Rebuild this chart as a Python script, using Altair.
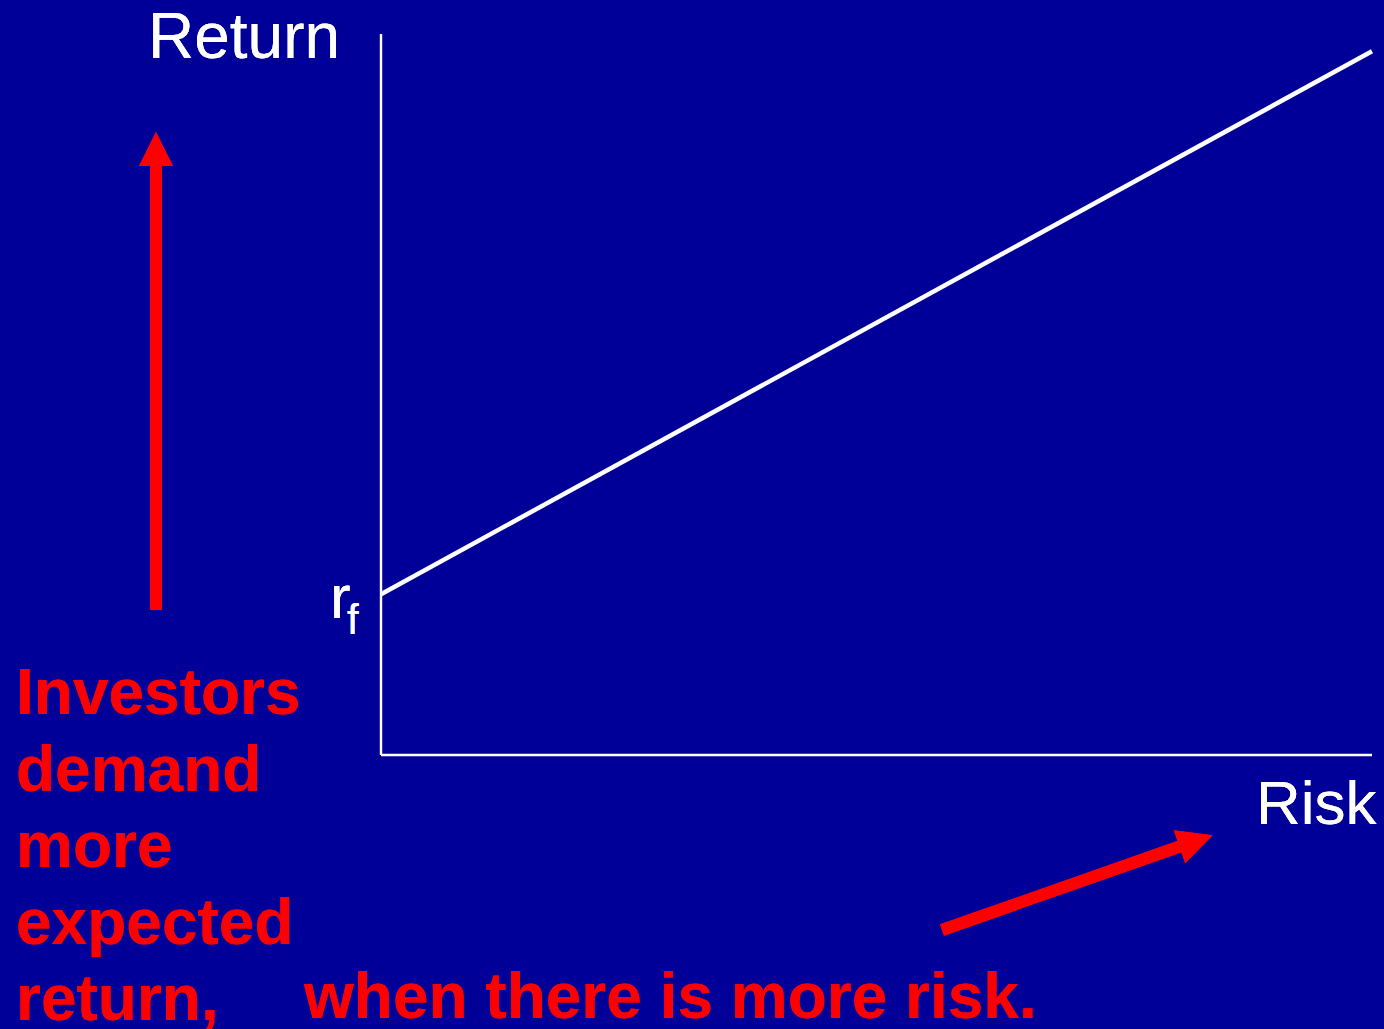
import altair as alt
import pandas as pd

# ---- data -------------------------------------------------------------
risk = [0, 10]                      # risk (x) values of the line
expected_return = [2.23, 9.76]      # return: r_f at zero risk, rising with risk
axis_len = 10                       # length of each drawn axis (data units)

left_text_lines = ["Investors", "demand", "more", "expected", "return,"]
bottom_text = "when there is more risk."
x_title = "Risk"
y_title = "Return"
rf_main, rf_sub = "r", "f"

# ---- layout -----------------------------------------------------------
W, H = 1384, 1029
BG = "#000099"
RED = "#ff0000"
FONT = "Liberation Sans"

# pixel anchors of the data frame
x0_px, x10_px = 381, 1372
y0_px, y10_px = 755, 34
kx = (x10_px - x0_px) / 10
ky = (y0_px - y10_px) / 10
x_dom = [-x0_px / kx, (W - x0_px) / kx]
y_dom = [-(H - y0_px) / ky, y0_px / ky]

xs = alt.Scale(domain=x_dom, nice=False, zero=False)
ys = alt.Scale(domain=y_dom, nice=False, zero=False)

line_df = pd.DataFrame({"risk": risk, "ret": expected_return})
axes_df = pd.DataFrame({
    "x": [0, 0], "y": [0, 0],
    "x2": [axis_len, 0], "y2": [0, axis_len],
})

base = alt.Chart(line_df)

axes = alt.Chart(axes_df).mark_rule(color="white", strokeWidth=2.4, strokeCap="butt").encode(
    x=alt.X("x:Q", scale=xs, axis=None),
    y=alt.Y("y:Q", scale=ys, axis=None),
    x2="x2:Q", y2="y2:Q",
)

line = base.mark_line(color="white", strokeWidth=4.5, strokeCap="butt").encode(
    x=alt.X("risk:Q", scale=xs, axis=None),
    y=alt.Y("ret:Q", scale=ys, axis=None),
)


def txt(text, x, y, size, color="white", weight="normal", **kw):
    return alt.Chart(line_df).mark_text(
        text=text, font=FONT, fontSize=size, color=color, fontWeight=weight,
        align="left", baseline="alphabetic", **kw
    ).encode(x=alt.value(x), y=alt.value(y))


texts = [
    txt(y_title, 148, 58, 64),
    txt(x_title, 1256, 824, 62),
    txt(rf_main, 330, 618, 62),
    txt(rf_sub, 347, 634, 42),
    txt(left_text_lines, 16, 714, 64, color=RED, weight="bold", lineHeight=76.5),
    txt(bottom_text, 304, 1018, 64, color=RED, weight="bold"),
]

# arrows (decorations)
up_shaft = alt.Chart(line_df).mark_rule(color=RED, strokeWidth=12, strokeCap="butt").encode(
    x=alt.value(156), y=alt.value(610), y2=alt.value(164)
)
up_head = alt.Chart(line_df).mark_point(
    shape="M0,-1L-1,1L1,1Z", filled=True, fill=RED, stroke=None, opacity=1, size=1156
).encode(x=alt.value(156), y=alt.value(149))

diag_shaft = alt.Chart(line_df).mark_rule(color=RED, strokeWidth=12, strokeCap="butt").encode(
    x=alt.value(942), y=alt.value(930), x2=alt.value(1184), y2=alt.value(845)
)
diag_head = alt.Chart(line_df).mark_point(
    shape="M0,-1L-1,1L1,1Z", filled=True, fill=RED, stroke=None, opacity=1, size=1225, angle=71
).encode(x=alt.value(1196), y=alt.value(841))

chart = alt.layer(
    axes, line, up_shaft, up_head, diag_shaft, diag_head, *texts
).properties(
    width=W, height=H, padding=0, autosize=alt.AutoSizeParams(type="none"),
    background=BG,
).configure_view(stroke=None)

chart.save("out.html", embed_options={"renderer": "svg", "actions": False})
